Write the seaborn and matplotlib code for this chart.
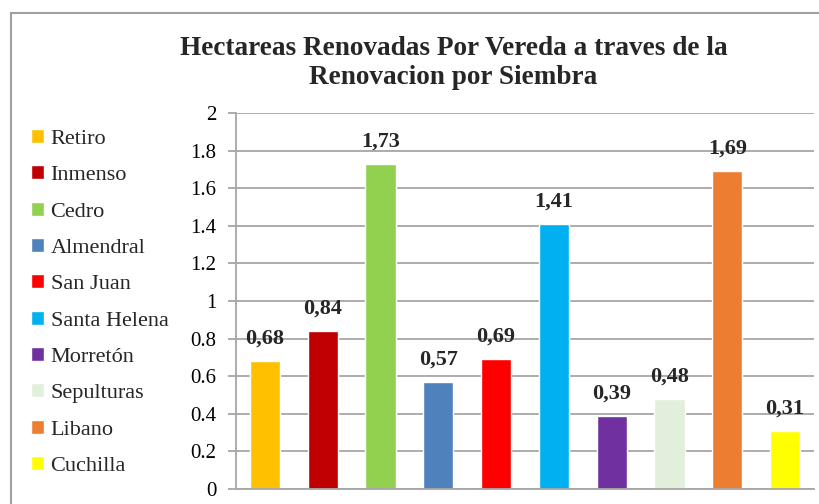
import matplotlib
matplotlib.use("Agg")
import matplotlib.pyplot as plt
import seaborn as sns
import pandas as pd
from matplotlib.patches import Rectangle

# Veredas and hectares renewed
veredas = ["Retiro", "Inmenso", "Cedro", "Almendral", "San Juan",
           "Santa Helena", "Morretón", "Sepulturas", "Libano", "Cuchilla"]
hectareas = [0.68, 0.84, 1.73, 0.57, 0.69, 1.41, 0.39, 0.48, 1.69, 0.31]
colores = ["#FFC000", "#C00000", "#92D050", "#4F81BD", "#FF0000",
           "#00B0F0", "#7030A0", "#E2EFDA", "#ED7D31", "#FFFF00"]
y_ticks = [0, 0.2, 0.4, 0.6, 0.8, 1, 1.2, 1.4, 1.6, 1.8, 2]

titulo = "Hectareas Renovadas Por Vereda a traves de la\nRenovacion por Siembra"

df = pd.DataFrame({"vereda": veredas, "ha": hectareas})

sns.set_style("white")
plt.rcParams["font.family"] = ["Liberation Serif", "DejaVu Serif"]

fig = plt.figure(figsize=(8.2, 5.04), dpi=100)
ax = fig.add_axes([236 / 820, 15 / 504, 578 / 820, 376 / 504])

sns.barplot(data=df, x="vereda", y="ha", hue="vereda", palette=colores,
            saturation=1, width=0.52, legend=True, ax=ax)

# data labels with comma decimals
for c in ax.containers:
    ax.bar_label(c, labels=[f"{v:.2f}".replace(".", ",") for v in c.datavalues],
                 padding=9, fontsize=16, fontweight="bold")

ax.set_ylim(0, 2)
ax.set_yticks(y_ticks)
ax.set_yticklabels([f"{v:g}" for v in y_ticks], fontsize=15)
ax.set_xticks([])
ax.set_xlabel("")
ax.set_ylabel("")
ax.yaxis.grid(True, color="#A6A6A6", linewidth=1.3)
ax.set_axisbelow(True)
for s in ["top", "right"]:
    ax.spines[s].set_visible(False)
for s in ["left", "bottom"]:
    ax.spines[s].set_color("#A6A6A6")
    ax.spines[s].set_linewidth(1.3)
ax.tick_params(axis="y", left=True, length=6, width=1.3, color="#A6A6A6",
               pad=8, labelcolor="black")

sns.move_legend(ax, "upper left", bbox_to_anchor=(31 / 820, 1 - 129 / 504),
                bbox_transform=fig.transFigure, frameon=False, title=None,
                fontsize=16, handlelength=0.6, handleheight=0.6,
                handletextpad=0.28, labelspacing=0.74, borderpad=0,
                borderaxespad=0)

fig.text(0.553, 1 - 63 / 504, titulo, ha="center", va="center",
         fontsize=19.6, fontweight="bold", linespacing=1.25)

# outer chart frame
fig.patches.append(Rectangle((11 / 820, -0.5), 2, 0.5 + 1 - 13 / 504,
                             transform=fig.transFigure, fill=False,
                             edgecolor="#A0A0A0", linewidth=1.5))

fig.savefig("out.png", dpi=100)
